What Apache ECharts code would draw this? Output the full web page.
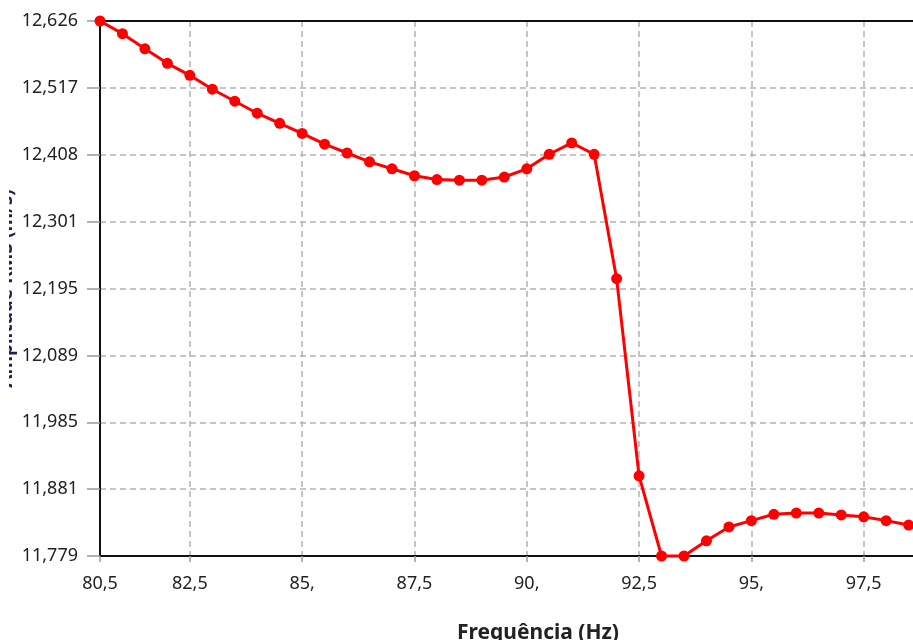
<!DOCTYPE html>
<html>
<head>
<meta charset="utf-8">
<script src="https://cdn.jsdelivr.net/npm/echarts@6/dist/echarts.min.js"></script>
<style>
html,body{margin:0;padding:0;background:#fff;}
#chart{width:913px;height:640px;}
</style>
</head>
<body>
<div id="chart"></div>
<script>
// Frequency (Hz)
const freq = [80.5, 81, 81.5, 82, 82.5, 83, 83.5, 84, 84.5, 85, 85.5, 86, 86.5, 87, 87.5, 88, 88.5, 89, 89.5, 90,
              90.5, 91, 91.5, 92, 92.5, 93, 93.5, 94, 94.5, 95, 95.5, 96, 96.5, 97, 97.5, 98, 98.5];
// Measured values
const values = [12.626, 12.606, 12.582, 12.559, 12.540, 12.518, 12.499, 12.480, 12.464, 12.448, 12.431, 12.417,
                12.403, 12.392, 12.381, 12.375, 12.374, 12.374, 12.379, 12.392, 12.415, 12.433, 12.415, 12.218,
                11.906, 11.779, 11.779, 11.803, 11.825, 11.835, 11.845, 11.847, 11.847, 11.844, 11.841, 11.835, 11.828];
// Tick labels as printed on the chart
const yTickLabels = ['11,779', '11,881', '11,985', '12,089', '12,195', '12,301', '12,408', '12,517', '12,626'];
const xTickValues = [80.5, 82.5, 85, 87.5, 90, 92.5, 95, 97.5, 100];
const xTickLabels = ['80,5', '82,5', '85,', '87,5', '90,', '92,5', '95,', '97,5', '100,'];

const Y_MIN = 11.779, Y_MAX = 12.626;
const X_MIN = 80.5, X_MAX = 100;

const FONT = '"Noto Sans", "Open Sans", sans-serif';
const chart = echarts.init(document.getElementById('chart'), null, {renderer: 'canvas'});

const seriesData = freq.map((f, i) => [f, values[i]]);
const xLabel = (v) => {
  const i = xTickValues.findIndex(t => Math.abs(t - v) < 1e-6);
  return i >= 0 ? xTickLabels[i] : '';
};

chart.setOption({
  animation: false,
  backgroundColor: '#ffffff',
  grid: {
    left: 100, right: -63, top: 21, bottom: 84,
    outerBoundsMode: 'none',
    containLabel: false,
    show: true, borderColor: '#111', borderWidth: 2, backgroundColor: 'transparent'
  },
  xAxis: [{
    type: 'value',
    min: X_MIN, max: X_MAX,
    name: 'Frequência (Hz)',
    nameLocation: 'middle',
    nameGap: 67,
    nameMoveOverlap: false,
    nameTextStyle: {fontFamily: FONT, fontSize: 21, fontWeight: 'bold', color: '#222'},
    axisLine: {show: true, onZero: false, lineStyle: {color: '#111', width: 2}},
    axisTick: {show: true, length: 6, customValues: xTickValues, lineStyle: {color: '#999', width: 1.5}},
    axisLabel: {
      margin: 19, fontFamily: FONT, fontSize: 18, color: '#222',
      customValues: xTickValues,
      showMinLabel: true,
      formatter: (v) => xLabel(v)
    },
    splitLine: {show: true, lineStyle: {color: '#b3b3b3', width: 1.5, type: [6, 4]}}
  }, {
    type: 'value',
    position: 'top',
    min: X_MIN, max: X_MAX,
    axisLine: {show: true, onZero: false, lineStyle: {color: '#111', width: 2}},
    axisTick: {show: false}, axisLabel: {show: false}, splitLine: {show: false}
  }],
  yAxis: [{
    type: 'value',
    min: Y_MIN, max: Y_MAX,
    show: true,
    axisLine: {show: false}, axisTick: {show: false}, axisLabel: {show: false}, splitLine: {show: false}
  }, {
    type: 'value',
    position: 'left',
    min: 0, max: yTickLabels.length - 1, interval: 1,
    name: 'Amplitude RMS (m/s)',
    nameLocation: 'middle',
    nameGap: 84,
    nameMoveOverlap: false,
    nameTextStyle: {fontFamily: FONT, fontSize: 19, fontWeight: 'bold', color: '#1c2250'},
    axisLine: {show: true, onZero: false, lineStyle: {color: '#111', width: 2}},
    axisTick: {show: true, length: 13, lineStyle: {color: '#999', width: 1.5}},
    axisLabel: {
      margin: 22, fontFamily: FONT, fontSize: 18, color: '#222',
      formatter: (v, idx) => yTickLabels[idx] !== undefined ? yTickLabels[idx] : ''
    },
    splitLine: {show: true, lineStyle: {color: '#b3b3b3', width: 1.5, type: [6, 4]}}
  }],
  graphic: [{
    type: 'rect', left: 0, top: 120, z: 100,
    shape: {width: 9, height: 360},
    style: {fill: '#ffffff'}
  }],
  series: [{
    type: 'line',
    xAxisIndex: 0,
    yAxisIndex: 0,
    data: seriesData,
    symbol: 'circle',
    symbolSize: 11,
    lineStyle: {color: '#ff0000', width: 3},
    itemStyle: {color: '#ff0000'},
    clip: false,
    z: 5
  }]
});
</script>
</body>
</html>
